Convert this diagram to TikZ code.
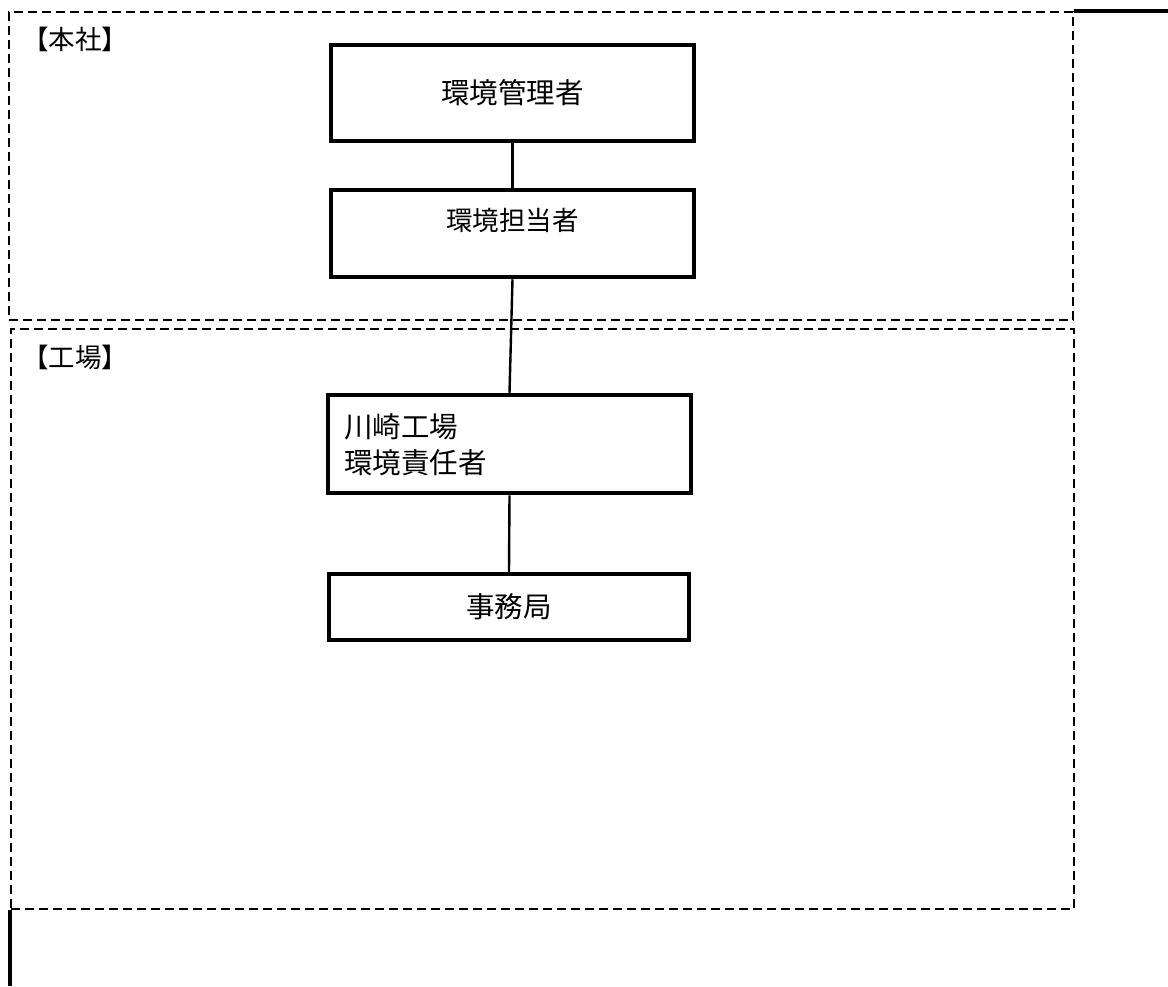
\documentclass[tikz,border=0pt]{standalone}
\usepackage{fontspec}
\setmainfont{Noto Sans CJK JP}
\begin{document}
\begin{tikzpicture}[x=1pt,y=-1pt,
  frame/.style={draw,line width=1.7pt,dash pattern=on 9pt off 5pt,inner sep=0pt,anchor=north west},
  orgbox/.style={draw,line width=4.5pt,inner sep=0pt,font=\fontsize{28.5}{36}\selectfont},
  txt/.style={inner sep=0pt,font=\fontsize{28.5}{36}\selectfont},
  lbl/.style={inner sep=0pt,anchor=west,font=\fontsize{26.5}{30}\selectfont},
  link/.style={line width=2.4pt},
  solidedge/.style={line width=3.2pt}]
\useasboundingbox (0,0) rectangle (1168,986);
% frames
\node[frame,minimum width=1064pt,minimum height=308pt] (frameA) at (8,11) {};
\node[frame,minimum width=1063pt,minimum height=580pt] (frameB) at (10,328) {};
\coordinate (tr) at (1168,11);
\coordinate (bl) at (10,986);
\draw[solidedge] (frameA.north east) -- (tr);
\draw[solidedge] (frameB.south west) -- (bl);
% labels
\node[lbl] (lhq) at (22,39) {【本社】};
\node[lbl] (lfac) at (22,357) {【工場】};
% boxes
\node[orgbox,minimum width=363pt,minimum height=96pt] (b1) at (512.5,93) {環境管理者};
\node[orgbox,minimum width=363pt,minimum height=87pt] (b2) at (512.5,233.5) {};
\node[txt,font=\fontsize{26.5}{30}\selectfont] (b2t) at ([yshift=13.5pt]b2.center) {環境担当者};
\node[orgbox,minimum width=363pt,minimum height=98pt] (b3) at (509.5,444) {};
\node[txt,anchor=west,align=left] (b3t) at (344,445) {川崎工場\\環境責任者};
\node[orgbox,minimum width=360pt,minimum height=66pt] (b4) at (509,607) {事務局};
% connectors
\draw[link] (b1.south) -- (b2.north);
\draw[link] (b2.south) -- (b3.north);
\draw[link] (b3.south) -- (b4.north);
\end{tikzpicture}
\end{document}
